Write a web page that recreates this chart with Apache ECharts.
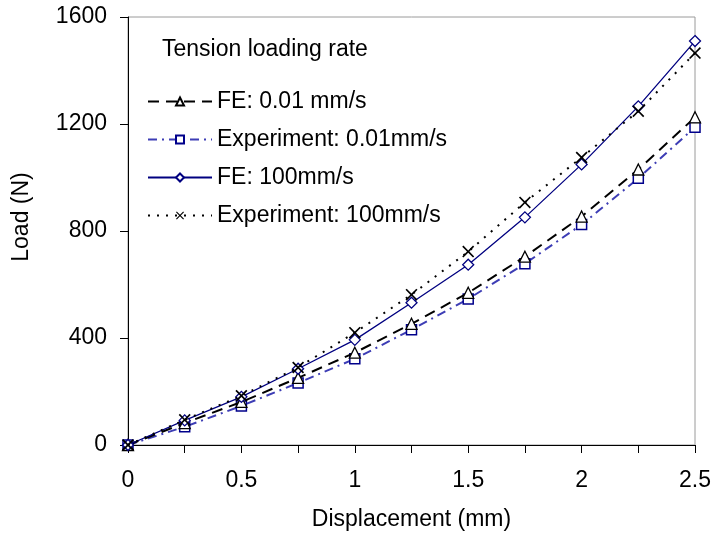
<!DOCTYPE html>
<html>
<head>
<meta charset="utf-8">
<script src="https://cdn.jsdelivr.net/npm/echarts@6/dist/echarts.min.js"></script>
<style>
  html, body { margin: 0; padding: 0; background: #fff; }
  #chart { width: 714px; height: 536px; }
</style>
</head>
<body>
<div id="chart"></div>
<script>
// displacement steps (mm)
var disp = [0, 0.25, 0.5, 0.75, 1, 1.25, 1.5, 1.75, 2, 2.25, 2.5];
// loads (N)
var fe001 = [0, 82, 161, 251, 345, 453, 569, 704, 854, 1030, 1225];
var exp001 = [0, 68, 146, 232, 322, 431, 546, 678, 824, 997, 1188];
var fe100 = [0, 92, 180, 285, 393, 532, 674, 851, 1049, 1266, 1510];
var exp100 = [0, 94, 184, 290, 420, 562, 723, 907, 1075, 1248, 1465];
var xTickLabels = [0, 0.5, 1, 1.5, 2, 2.5];
var seriesNames = ['FE: 0.01 mm/s', 'Experiment: 0.01mm/s', 'FE: 100mm/s', 'Experiment: 100mm/s'];

var font = 'Liberation Sans';
var fs = 23;
var crossPath = 'path://M0,1L1,0L5,4L9,0L10,1L6,5L10,9L9,10L5,6L1,10L0,9L4,5Z';

function pairs(ys) {
    return disp.map(function (x, i) { return [x, ys[i]]; });
}

var myChart = echarts.init(document.getElementById('chart'));
var option = {
    animation: false,
    backgroundColor: '#fff',
    textStyle: { fontFamily: font },
    grid: {
        left: 128, right: 18, top: 17, bottom: 91,
        show: true, borderColor: '#9a9a9a', borderWidth: 1
    },
    title: {
        text: 'Tension loading rate',
        left: 157, top: 33,
        textStyle: { fontFamily: font, fontSize: fs, fontWeight: 'normal', color: '#000' }
    },
    legend: {
        orient: 'vertical',
        left: 142, top: 85,
        itemWidth: 64, itemHeight: 10, itemGap: 15,
        data: seriesNames,
        textStyle: { fontFamily: font, fontSize: fs, color: '#000' }
    },
    xAxis: {
        type: 'value',
        min: 0, max: 2.5, interval: 0.25,
        name: 'Displacement (mm)',
        nameLocation: 'middle', nameGap: 63,
        nameTextStyle: { fontFamily: font, fontSize: fs, color: '#000' },
        axisLine: { onZero: false, lineStyle: { color: '#000', width: 1 } },
        axisTick: { inside: false, length: 8, lineStyle: { color: '#000' } },
        axisLabel: {
            margin: 24, fontFamily: font, fontSize: fs, color: '#000',
            formatter: function (v) {
                for (var i = 0; i < xTickLabels.length; i++) {
                    if (Math.abs(xTickLabels[i] - v) < 1e-6) return String(xTickLabels[i]);
                }
                return '';
            }
        },
        splitLine: { show: false }
    },
    yAxis: {
        type: 'value',
        min: 0, max: 1600, interval: 400,
        name: 'Load (N)',
        nameLocation: 'middle', nameGap: 95,
        nameTextStyle: { fontFamily: font, fontSize: fs, color: '#000', padding: [0, 0, 0, 28] },
        axisLine: { show: true, onZero: false, lineStyle: { color: '#000', width: 1 } },
        axisTick: { show: true, length: 8, lineStyle: { color: '#000' } },
        axisLabel: {
            margin: 21, fontFamily: font, fontSize: fs, color: '#000',
            formatter: function (v) { return String(v); }
        },
        splitLine: { show: false }
    },
    series: [
        {
            name: seriesNames[0], type: 'line', data: pairs(fe001),
            symbol: 'triangle', symbolSize: 11,
            lineStyle: { color: '#000', width: 2, type: [11, 7] },
            itemStyle: { color: '#fff', borderColor: '#000', borderWidth: 1.3 },
            z: 3
        },
        {
            name: seriesNames[1], type: 'line', data: pairs(exp001),
            symbol: 'rect', symbolSize: 10,
            lineStyle: { color: '#3d3db5', width: 2, type: [9, 5, 2, 5] },
            itemStyle: { color: '#fff', borderColor: '#00008b', borderWidth: 1.5 },
            z: 2
        },
        {
            name: seriesNames[2], type: 'line', data: pairs(fe100),
            symbol: 'diamond', symbolSize: 11,
            lineStyle: { color: '#000080', width: 1.3, type: 'solid' },
            itemStyle: { color: '#fff', borderColor: '#000080', borderWidth: 1.3 },
            z: 4
        },
        {
            name: seriesNames[3], type: 'line', data: pairs(exp100),
            symbol: crossPath, symbolSize: 12,
            lineStyle: { color: '#000', width: 2, type: [2, 7] },
            itemStyle: { color: '#000', borderWidth: 0 },
            z: 5
        }
    ]
};
myChart.setOption(option);
</script>
</body>
</html>
